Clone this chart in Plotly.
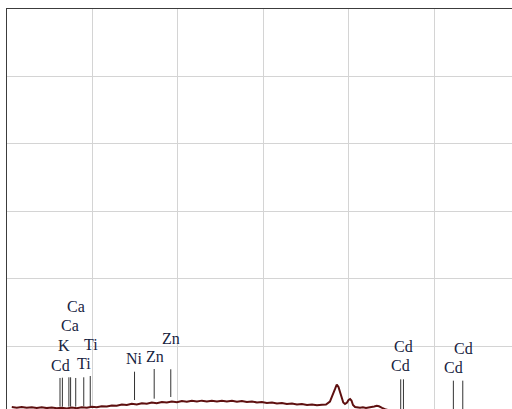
import plotly.graph_objects as go

# ---- spectrum (energy keV, counts) ----
energy = [0.28, 0.57, 0.86, 1.15, 1.45, 1.74, 2.03, 2.32, 2.62, 2.91,
          3.20, 3.50, 3.79, 4.08, 4.37, 4.67, 4.96, 5.25, 5.54, 5.84,
          6.13, 6.42, 6.72, 7.01, 7.30, 7.59, 7.89, 8.18, 8.47, 8.76,
          9.06, 9.35, 9.64, 9.94, 10.23, 10.52, 10.81, 11.11, 11.40, 11.69,
          11.98, 12.28, 12.57, 12.86, 13.16, 13.45, 13.74, 14.03, 14.33, 14.62,
          14.91, 15.20, 15.50, 15.79, 16.08, 16.37, 16.67, 16.96, 17.25, 17.55,
          17.84, 18.13, 18.42, 18.66, 18.89, 19.07, 19.19, 19.29, 19.39, 19.48,
          19.57, 19.67, 19.77, 19.89, 19.98, 20.07, 20.15, 20.24, 20.36, 20.50,
          20.65, 20.82, 21.00, 21.15, 21.30, 21.48, 21.63, 21.76, 21.94, 22.17,
          22.52, 22.99, 25.92, 29.54]
counts = [100, 90, 100, 89, 97, 85, 94, 84, 93, 81,
          90, 79, 91, 82, 95, 88, 102, 96, 112, 107,
          123, 118, 136, 129, 146, 137, 154, 147, 165, 156,
          173, 166, 182, 172, 188, 178, 192, 180, 194, 183,
          194, 181, 193, 181, 192, 179, 188, 173, 182, 167,
          174, 160, 167, 151, 159, 144, 152, 136, 144, 131,
          138, 125, 134, 135, 181, 278, 367, 433, 396, 322,
          248, 166, 144, 166, 203, 218, 196, 129, 99, 92,
          88, 94, 86, 93, 96, 107, 117, 110, 88, 62,
          40, 25, 18, 10]

# ---- element marker lines ----
line_energy = [3.10, 3.24, 3.62, 3.72, 4.02, 4.49, 4.87, 7.46, 8.61, 9.58,
               23.03, 23.19, 26.11, 26.66]
line_bottom = [105, 105, 105, 105, 105, 110, 110, 203, 223, 248,
               0, 0, 0, 0]
line_top = [530, 534, 540, 540, 530, 540, 559, 623, 663, 659,
            510, 510, 490, 490]

# ---- element labels ----
label_text = ["Cd", "K", "Ca", "Ca", "Ti", "Ti", "Ni", "Zn", "Zn",
              "Cd", "Cd", "Cd", "Cd"]
label_energy = [3.14, 3.34, 3.71, 4.02, 4.51, 4.92, 7.46, 8.65, 9.60,
                23.01, 23.19, 26.14, 26.68]
label_counts = [708, 1005, 1302, 1588, 748, 1030, 822, 846, 1119,
                708, 994, 683, 971]

fig = go.Figure()

mx, my = [], []
for e, b, t in zip(line_energy, line_bottom, line_top):
    mx += [e, e, None]
    my += [b, t, None]
fig.add_trace(go.Scatter(x=mx, y=my, mode="lines",
                         line=dict(color="#333333", width=1),
                         hoverinfo="skip", showlegend=False))

fig.add_trace(go.Scatter(x=energy, y=counts, mode="lines",
                         line=dict(color="#5e1010", width=2),
                         showlegend=False))

for txt, e, c in zip(label_text, label_energy, label_counts):
    fig.add_annotation(x=e, y=c, text=txt, showarrow=False,
                       xanchor="center", yanchor="middle",
                       font=dict(family="Liberation Serif", size=16,
                                 color="#18243f"))

fig.update_layout(
    width=512, height=409,
    margin=dict(l=7, r=0, t=9, b=0),
    paper_bgcolor="white", plot_bgcolor="white",
    xaxis=dict(range=[0, 29.54], dtick=5, tick0=0, side="top",
               showgrid=True, gridcolor="#d4d4d4", gridwidth=1,
               showticklabels=False, ticks="", zeroline=False,
               showline=True, linecolor="#3c3c3c", linewidth=1),
    yaxis=dict(range=[70, 6000], dtick=1000, tick0=0,
               showgrid=True, gridcolor="#d4d4d4", gridwidth=1,
               showticklabels=False, ticks="", zeroline=False,
               showline=True, linecolor="#3c3c3c", linewidth=1),
)

fig.write_html("out.html", config={"displayModeBar": False},
               post_script="document.body.style.margin='0';document.body.style.overflow='hidden';")
